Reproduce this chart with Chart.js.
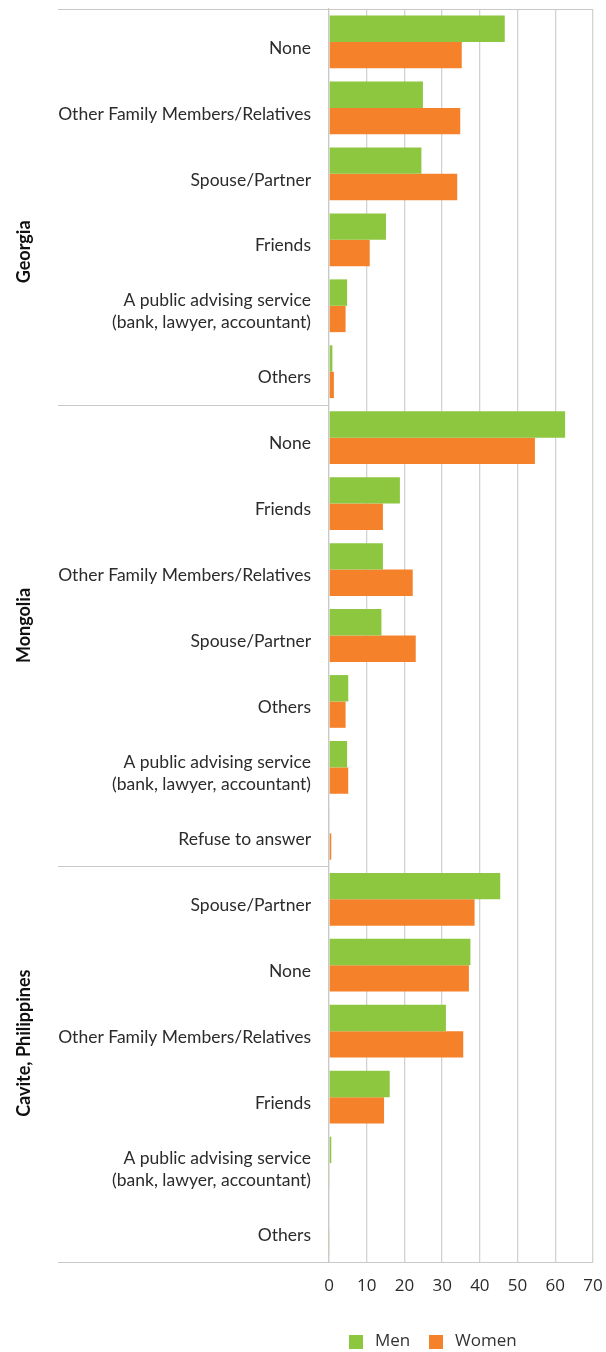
<!DOCTYPE html>
<html>
<head>
<meta charset="utf-8">
<script src="https://cdn.jsdelivr.net/npm/chart.js@4.4.1/dist/chart.umd.min.js"></script>
<style>
    html, body { margin: 0; padding: 0; background: #fff; }
    #wrap { position: relative; width: 606px; height: 1352px; }
    #legend { position: absolute; left: 0; top: 1333px; font-family: "Open Sans", sans-serif; font-size: 17px; color: #333; }
    .item { position: absolute; top: 0; white-space: nowrap; line-height: 18px; }
    .box { position: absolute; top: 2px; width: 14px; height: 14px; }
    .txt { position: absolute; top: -2px; }
</style>
</head>
<body>
<div id="wrap">
    <canvas id="chart" width="606" height="1352"></canvas>
    <div id="legend"></div>
</div>
<script>
// Data
const groups = ['Georgia', 'Mongolia', 'Cavite, Philippines'];
const groupSizes = [6, 7, 6];
const categories = [
    'None',
    'Other Family Members/Relatives',
    'Spouse/Partner',
    'Friends',
    ['A public advising service', '(bank, lawyer, accountant)'],
    'Others',
    'None',
    'Friends',
    'Other Family Members/Relatives',
    'Spouse/Partner',
    'Others',
    ['A public advising service', '(bank, lawyer, accountant)'],
    'Refuse to answer',
    'Spouse/Partner',
    'None',
    'Other Family Members/Relatives',
    'Friends',
    ['A public advising service', '(bank, lawyer, accountant)'],
    'Others'
];
const men   = [46.6, 24.9, 24.5, 15.1, 4.8, 0.9,  62.6, 18.8, 14.3, 13.9, 5.1, 4.8, 0.2,  45.4, 37.5, 31.0, 16.1, 0.6, 0];
const women = [35.2, 34.8, 34.0, 10.8, 4.4, 1.3,  54.6, 14.3, 22.2, 23.0, 4.4, 5.1, 0.6,  38.6, 37.1, 35.6, 14.6, 0.2, 0.2];
const xTicks = [0, 10, 20, 30, 40, 50, 60, 70];

const green = '#8dc63f';
const orange = '#f5822a';
const lineGrey = '#c9c9c9';
const txtColor = '#2b2b2b';

// Group label offsets (px) so they sit where the original has them
const groupLabelShift = [45, -10, -21];

const groupPlugin = {
    id: 'groups',
    afterDraw(chart) {
        const ctx = chart.ctx;
        const y = chart.scales.y;
        const area = chart.chartArea;
        const left = 58;
        ctx.save();
        ctx.strokeStyle = lineGrey;
        ctx.lineWidth = 1.2;

        // top and bottom frame lines
        ctx.beginPath();
        ctx.moveTo(left, area.top + 0.5);
        ctx.lineTo(area.right, area.top + 0.5);
        ctx.moveTo(left, area.bottom + 0.5);
        ctx.lineTo(area.right, area.bottom + 0.5);
        ctx.stroke();

        let start = 0;
        groups.forEach((name, i) => {
            const end = start + groupSizes[i];
            const yTop = y.getPixelForValue(start - 0.5);
            const yBot = y.getPixelForValue(end - 0.5);
            if (i < groups.length - 1) {
                ctx.beginPath();
                ctx.moveTo(left, Math.round(yBot) + 0.5);
                ctx.lineTo(area.left, Math.round(yBot) + 0.5);
                ctx.stroke();
            }
            const mid = (yTop + yBot) / 2 + groupLabelShift[i];
            ctx.save();
            ctx.translate(24, mid);
            ctx.rotate(-Math.PI / 2);
            ctx.fillStyle = '#111';
            ctx.font = 'bold 18px Lato';
            ctx.textAlign = 'center';
            ctx.textBaseline = 'middle';
            ctx.fillText(name, 0, 0);
            ctx.restore();
            start = end;
        });
        ctx.restore();
    }
};

const ctx = document.getElementById('chart').getContext('2d');
const chart = new Chart(ctx, {
    type: 'bar',
    data: {
        labels: categories,
        datasets: [
            { label: 'Men', data: men, backgroundColor: green, categoryPercentage: 0.8, barPercentage: 1.0 },
            { label: 'Women', data: women, backgroundColor: orange, categoryPercentage: 0.8, barPercentage: 1.0 }
        ]
    },
    options: {
        indexAxis: 'y',
        responsive: false,
        animation: false,
        layout: { padding: { top: 9, right: 13, left: 0, bottom: 0 } },
        scales: {
            x: {
                min: 0,
                max: 70,
                afterBuildTicks: (s) => { s.ticks = xTicks.map(v => ({ value: v })); },
                afterFit: (s) => { s.height = 90; s.paddingLeft = 0; s.paddingRight = 0; },
                ticks: {
                    color: txtColor,
                    font: { family: 'Open Sans', size: 17 },
                    padding: 14
                },
                grid: { color: '#d2d2d2', lineWidth: 1.3, drawTicks: false },
                border: { display: false }
            },
            y: {
                afterFit: (s) => { s.width = 329; s.paddingTop = 0; s.paddingBottom = 0; },
                ticks: {
                    color: txtColor,
                    font: { family: 'Lato', size: 17.5, lineHeight: 1.25 },
                    padding: 18,
                    labelOffset: 6,
                    autoSkip: false
                },
                grid: { display: false, drawTicks: false },
                border: { color: lineGrey, width: 1.2 }
            }
        },
        plugins: {
            legend: { display: false },
            tooltip: { enabled: false }
        }
    },
    plugins: [groupPlugin]
});

// Legend under the axis
const legend = document.getElementById('legend');
const legendItems = [{ name: 'Men', color: green, x: 349 }, { name: 'Women', color: orange, x: 429 }];
legendItems.forEach(it => {
    const el = document.createElement('div');
    el.className = 'item';
    el.style.left = it.x + 'px';
    el.innerHTML = `<span class="box" style="background:${it.color}"></span><span class="txt" style="left:26px">${it.name}</span>`;
    legend.appendChild(el);
});
</script>
</body>
</html>
